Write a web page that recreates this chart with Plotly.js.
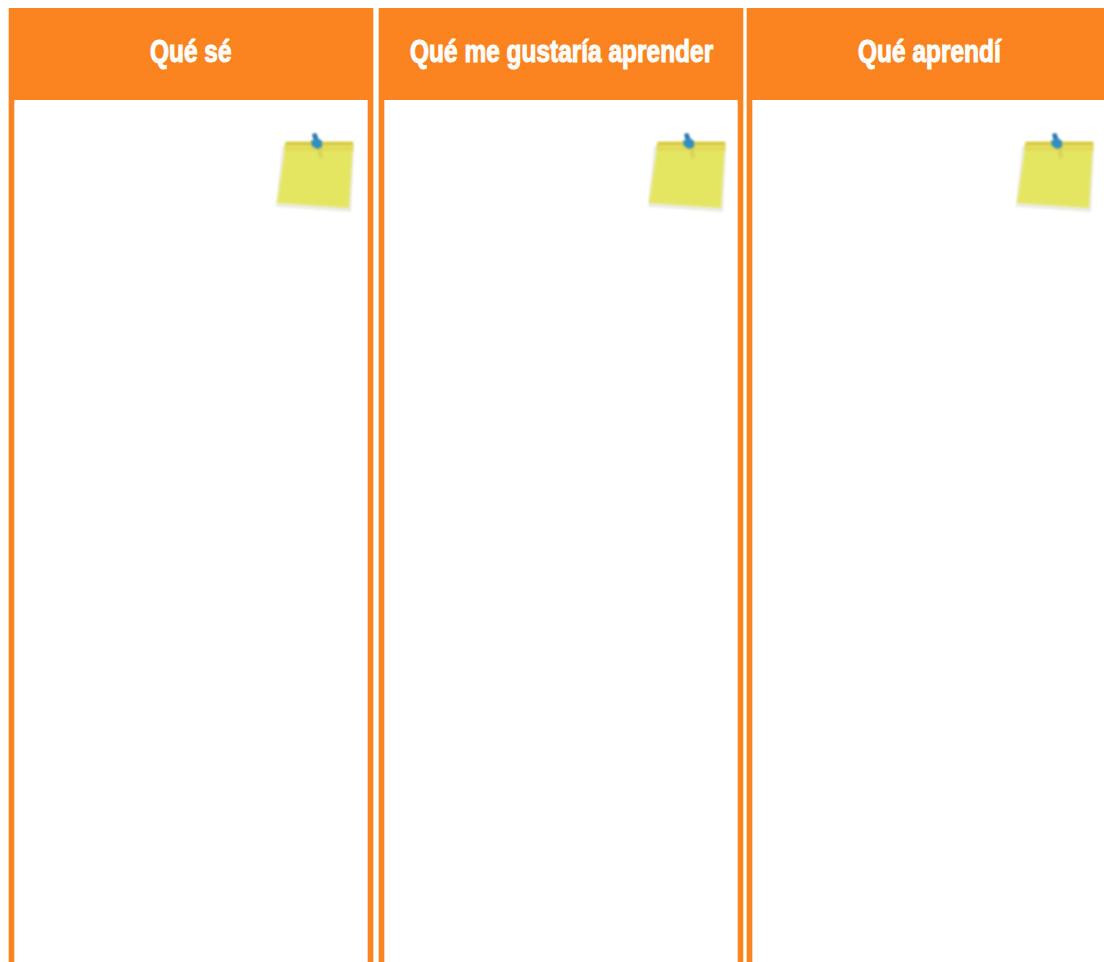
<!DOCTYPE html>
<html>
<head>
<meta charset="utf-8">
<script src="https://cdn.plot.ly/plotly-3.0.0.min.js"></script>
<style>
html,body{margin:0;padding:0;background:#fff;overflow:hidden}
#chart{width:1104px;height:962px}
.annotation-text{transform-box:fill-box;transform-origin:center;transform:scaleX(.765);stroke:#fff;stroke-width:1.1px}
.layer-above .shapelayer path{filter:blur(1px)}
</style>
</head>
<body>
<div id="chart"></div>
<script>
const columnTitles = ["Qué sé", "Qué me gustaría aprender", "Qué aprendí"];
const columnLeft = [9, 379, 747];
const columnRight = [373, 743, 1112];
const titleCentre = [191, 561, 930];
const noteOffset = [0, 372, 740];

const ORANGE = "#fb8420", PALE = "#fdd8b8";
const HEADER_TOP = 8, HEADER_BOTTOM = 100, BOTTOM = 962, BORDER = 5;

function poly(points, dx) {
  return "M" + points.map(p => (p[0] + dx) + "," + p[1]).join(" L") + " Z";
}
function shapeOf(points, dx, fill) {
  return {type: "path", xref: "x", yref: "y", path: poly(points, dx), fillcolor: fill, line: {width: 0}, layer: "above"};
}
function rect(x0, x1, y0, y1, fill) {
  return {type: "rect", xref: "x", yref: "y", x0, x1, y0, y1, fillcolor: fill, line: {width: 0}, layer: "below"};
}

const shapes = [];
columnLeft.forEach((left, i) => {
  const right = columnRight[i];
  // pale anti-aliased edges under the frame
  shapes.push(rect(left - 1, right + 1, HEADER_TOP, HEADER_BOTTOM, PALE));
  shapes.push(rect(left - 1, left + BORDER + 1, HEADER_BOTTOM, BOTTOM, PALE));
  shapes.push(rect(right - BORDER - 1, right + 1, HEADER_BOTTOM, BOTTOM, PALE));
  // frame
  shapes.push(rect(left, right, HEADER_TOP, HEADER_BOTTOM, ORANGE));
  shapes.push(rect(left, left + BORDER, HEADER_BOTTOM, BOTTOM, ORANGE));
  shapes.push(rect(right - BORDER, right, HEADER_BOTTOM, BOTTOM, ORANGE));

  const dx = noteOffset[i];
  // soft shadow
  shapes.push(shapeOf([[282,146],[354,146],[351,212],[276,207]], dx, "rgba(200,200,180,0.35)"));
  // note body
  shapes.push(shapeOf([[286,142],[353,142],[349,208],[277,203]], dx, "#e4e662"));
  // top band fading into the body
  shapes.push(shapeOf([[286,142],[353,142],[353,146],[285,146]], dx, "#d9ca4c"));
  shapes.push(shapeOf([[285,146],[353,146],[353,151],[285,151]], dx, "#e1dc58"));
  // pin shadow
  shapes.push(shapeOf([[317,146],[321,146],[323,158],[319,158]], dx, "rgba(205,190,80,0.45)"));
  // pin
  shapes.push(shapeOf([[312,134],[316,133],[318,138],[322,141],[322,147],[317,149],[312,146],[311,141],[314,139]], dx, "#2f8fc0"));
  shapes.push(shapeOf([[313,135],[316,134],[317,139],[314,139]], dx, "#3a6f9c"));
});

const annotations = columnTitles.map((t, i) => ({
  text: "<b>" + t + "</b>",
  xref: "x", yref: "y", x: titleCentre[i], y: 51,
  xanchor: "center", yanchor: "middle", showarrow: false,
  font: {family: "'Liberation Sans', sans-serif", size: 32, color: "#ffffff"}
}));

const layout = {
  width: 1104, height: 962,
  margin: {l: 0, r: 0, t: 0, b: 0},
  paper_bgcolor: "#ffffff", plot_bgcolor: "#ffffff",
  showlegend: false,
  xaxis: {range: [0, 1104], visible: false, fixedrange: true},
  yaxis: {range: [962, 0], visible: false, fixedrange: true},
  shapes, annotations
};
Plotly.newPlot("chart", [{x: [0], y: [0], type: "scatter", mode: "markers", marker: {opacity: 0}, hoverinfo: "skip"}], layout, {displayModeBar: false, staticPlot: true});
</script>
</body>
</html>
